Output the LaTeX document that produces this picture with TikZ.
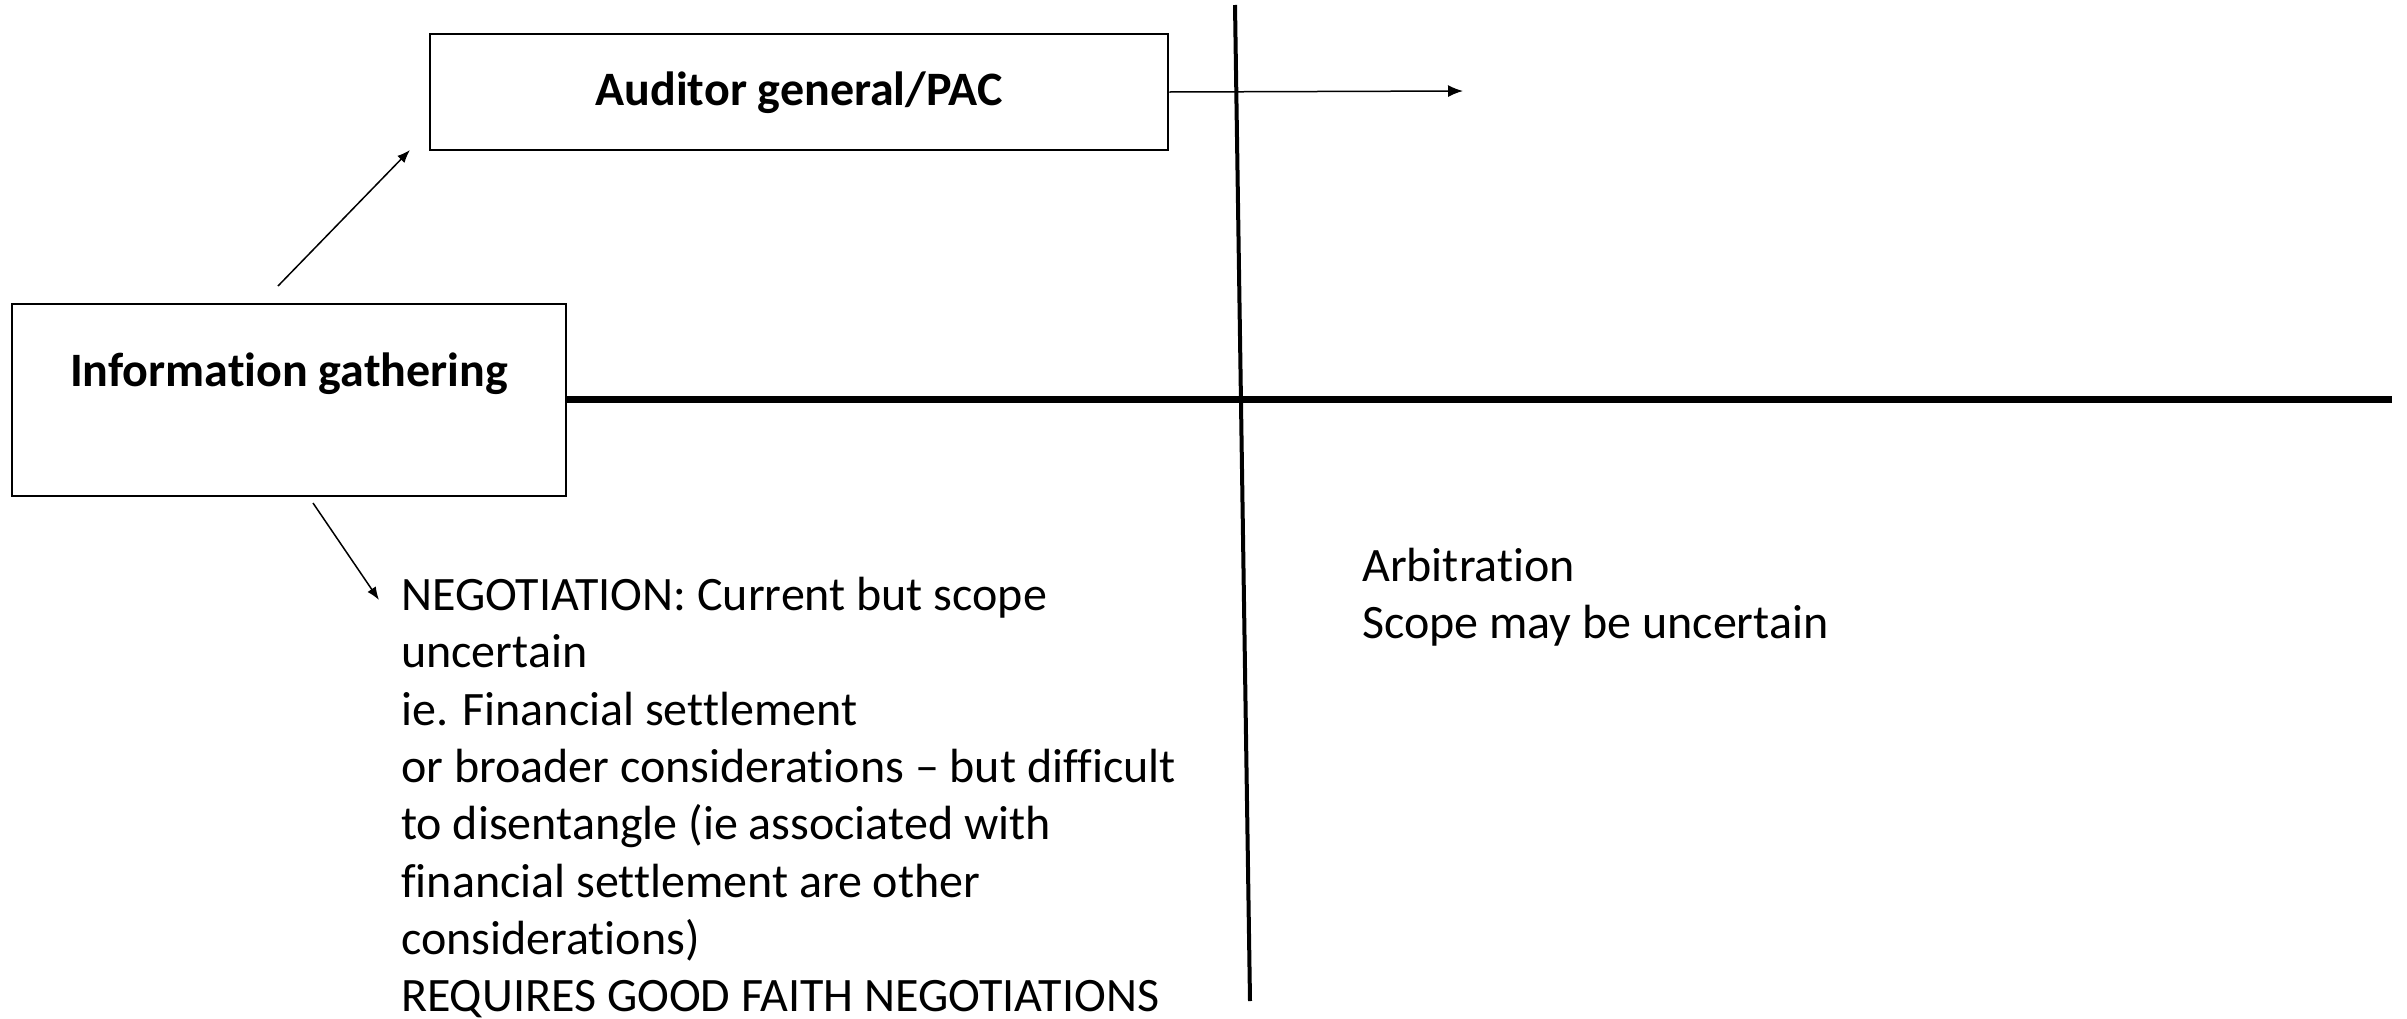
\documentclass[tikz,border=0pt]{standalone}
\usepackage{fontspec}
\setmainfont[Ligatures=NoCommon]{Carlito}
\usetikzlibrary{arrows.meta}
\begin{document}
\begin{tikzpicture}[x=1pt,y=-1pt,
  box/.style={draw=black, line width=2.5pt, inner sep=0pt},
  lbl/.style={font=\fontsize{48}{57.3}\selectfont\bfseries, inner sep=0pt},
  body/.style={font=\fontsize{48}{57.3}\selectfont, inner sep=0pt, align=left, anchor=north west},
  arr/.style={line width=1.5pt, -{Latex[length=15pt,width=12pt]}},
  thinarr/.style={line width=1.5pt, -{Latex[length=13pt,width=10pt]}}]
\useasboundingbox (0,0) rectangle (2407,1018);
% boxes
\node[box, minimum width=738pt, minimum height=116pt] (aud) at (799,92) {};
\node[lbl] (audt) at (799,93) {Auditor general/PAC};
\node[box, minimum width=554pt, minimum height=192pt] (info) at (289,400) {};
\node[lbl] (infot) at (289,374) {Information gathering};
% texts
\node[body] (neg) at (401,577) {NEGOTIATION: Current but scope\\uncertain\\ie. Financial settlement\\or broader considerations -- but difficult\\to disentangle (ie associated with\\financial settlement are other\\considerations)\\REQUIRES GOOD FAITH NEGOTIATIONS};
\node[body] (arb) at (1362,548) {Arbitration\\Scope may be uncertain};
% axes
\coordinate (vtop) at (1235,5);
\coordinate (vbot) at (1250,1001);
\coordinate (hend) at (2392,399);
\draw[line width=4pt] (vtop) -- (vbot);
\draw[line width=7pt] (info.east |- hend) -- (hend);
% arrows
\coordinate (a1s) at (278,286);
\coordinate (a1e) at (410,150);
\draw[thinarr] (a1s) -- (a1e);
\coordinate (a2s) at (313,503);
\coordinate (a2e) at (379,600);
\draw[thinarr] (a2s) -- (a2e);
\coordinate (a3e) at (1463,91);
\draw[arr] (aud.east) -- (a3e);
\end{tikzpicture}
\end{document}
